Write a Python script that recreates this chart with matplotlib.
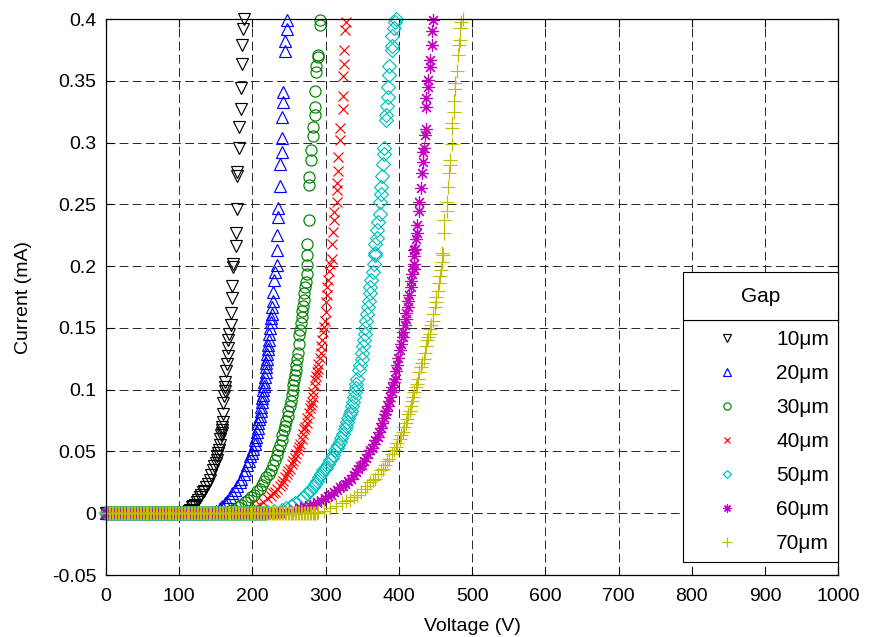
import numpy as np
import matplotlib.pyplot as plt
from matplotlib.patches import Rectangle

plt.rcParams['font.family'] = ['Liberation Sans', 'DejaVu Sans']
plt.rcParams['font.size'] = 14

# gap labels, styles per series
gaps = ["10μm", "20μm", "30μm", "40μm", "50μm", "60μm", "70μm"]
markers = ['v', '^', 'o', 'x', 'D', (8, 2, 0), '+']
msizes = [8.5, 8.5, 8, 7, 7, 9, 10]
colors = ['k', (0, 0, 1), (0, 0.5, 0), (1, 0, 0), (0, 0.75, 0.75), (0.75, 0, 0.75), (0.75, 0.75, 0)]

# voltage where current leaves zero (flat part is 0 mA, sampled every 2 V)
onsets = [110, 145, 170, 195, 220, 240, 290]

# rising part (V, mA)
v10 = [110, 113, 115, 117, 119, 121, 124, 126, 128, 130, 132, 134, 137, 139, 142, 144, 146, 148, 150,
       151, 152, 153, 154, 155, 156, 157, 158, 159, 159, 160, 160, 160, 161, 162, 163, 163, 164, 165,
       166, 167, 167, 168, 171, 171, 172, 172, 174, 174, 177, 177, 179, 179, 179, 182, 182, 184, 184,
       186, 186, 187, 188]
i10 = [0.001, 0.002, 0.003, 0.005, 0.006, 0.007, 0.009, 0.011, 0.013, 0.015, 0.017, 0.018, 0.021, 0.024,
       0.027, 0.031, 0.035, 0.038, 0.041, 0.043, 0.046, 0.049, 0.051, 0.055, 0.060, 0.063, 0.065, 0.067,
       0.070, 0.074, 0.080, 0.089, 0.095, 0.099, 0.102, 0.106, 0.115, 0.121, 0.127, 0.134, 0.140, 0.145,
       0.152, 0.162, 0.174, 0.184, 0.199, 0.202, 0.216, 0.227, 0.246, 0.273, 0.276, 0.296, 0.313, 0.327,
       0.344, 0.364, 0.379, 0.392, 0.400]

v20 = [145, 150, 155, 158, 162, 165, 169, 172, 176, 179, 183, 185, 188, 190, 193, 195, 197, 199, 201,
       203, 204, 205, 206, 207, 208, 209, 210, 211, 212, 213, 213, 214, 215, 216, 216, 217, 218, 219,
       219, 220, 220, 221, 221, 222, 223, 224, 225, 225, 226, 227, 228, 228, 229, 231, 233, 233, 233,
       235, 235, 238, 238, 240, 240, 240, 242, 242, 245, 245, 247, 247]
i20 = [0.001, 0.002, 0.004, 0.006, 0.008, 0.010, 0.013, 0.016, 0.019, 0.022, 0.025, 0.028, 0.032, 0.035,
       0.039, 0.042, 0.046, 0.049, 0.052, 0.056, 0.059, 0.062, 0.066, 0.069, 0.073, 0.076, 0.079, 0.083,
       0.086, 0.090, 0.093, 0.096, 0.100, 0.103, 0.106, 0.110, 0.114, 0.118, 0.122, 0.125, 0.129, 0.133,
       0.136, 0.140, 0.145, 0.150, 0.155, 0.158, 0.161, 0.167, 0.172, 0.179, 0.189, 0.195, 0.201, 0.213,
       0.225, 0.240, 0.247, 0.265, 0.283, 0.292, 0.304, 0.321, 0.333, 0.341, 0.374, 0.382, 0.392, 0.399]

v30 = [170, 175, 180, 185, 190, 194, 198, 202, 206, 210, 213, 216, 219, 222, 225, 228, 231, 233, 235,
       237, 240, 241, 243, 245, 246, 248, 249, 251, 252, 254, 255, 256, 257, 258, 259, 260, 261, 262,
       263, 264, 265, 266, 267, 268, 269, 270, 271, 272, 273, 274, 274, 275, 275, 277, 277, 277, 280,
       280, 283, 283, 285, 285, 285, 287, 287, 290, 290, 292, 292]
i30 = [0.002, 0.003, 0.005, 0.007, 0.009, 0.011, 0.013, 0.015, 0.018, 0.020, 0.023, 0.026, 0.029, 0.032,
       0.035, 0.039, 0.043, 0.047, 0.051, 0.055, 0.059, 0.063, 0.067, 0.071, 0.075, 0.079, 0.083, 0.087,
       0.091, 0.096, 0.100, 0.104, 0.108, 0.112, 0.116, 0.120, 0.125, 0.130, 0.137, 0.144, 0.148, 0.154,
       0.159, 0.164, 0.168, 0.173, 0.178, 0.183, 0.187, 0.194, 0.201, 0.209, 0.218, 0.237, 0.266, 0.272,
       0.286, 0.294, 0.305, 0.313, 0.322, 0.329, 0.342, 0.357, 0.362, 0.369, 0.371, 0.395, 0.399]

v40 = [195, 200, 205, 210, 215, 220, 225, 228, 231, 234, 237, 240, 242, 245, 247, 249, 251, 254, 256,
       258, 260, 262, 264, 265, 267, 269, 271, 272, 274, 275, 277, 278, 280, 281, 282, 283, 285, 286,
       287, 288, 289, 290, 292, 293, 294, 295, 296, 298, 299, 300, 301, 302, 302, 303, 305, 306, 308,
       309, 310, 312, 312, 315, 315, 315, 317, 317, 319, 319, 323, 323, 323, 325, 325, 327, 328]
i40 = [0.002, 0.003, 0.005, 0.007, 0.009, 0.012, 0.014, 0.016, 0.017, 0.020, 0.022, 0.024, 0.026, 0.029,
       0.032, 0.034, 0.036, 0.040, 0.042, 0.045, 0.048, 0.051, 0.054, 0.056, 0.060, 0.064, 0.068, 0.070,
       0.073, 0.077, 0.081, 0.085, 0.088, 0.090, 0.094, 0.098, 0.103, 0.108, 0.111, 0.114, 0.117, 0.121,
       0.126, 0.130, 0.135, 0.140, 0.147, 0.151, 0.156, 0.163, 0.171, 0.177, 0.183, 0.189, 0.196, 0.202,
       0.206, 0.218, 0.228, 0.237, 0.244, 0.252, 0.262, 0.267, 0.277, 0.288, 0.302, 0.312, 0.327, 0.338,
       0.354, 0.364, 0.375, 0.391, 0.398]

v50 = [220, 230, 240, 246, 252, 258, 265, 270, 274, 278, 282, 285, 288, 291, 294, 297, 300, 303, 306,
       308, 310, 313, 315, 317, 319, 321, 324, 326, 328, 329, 331, 333, 334, 336, 337, 338, 340, 341,
       342, 343, 345, 347, 349, 350, 351, 352, 353, 354, 355, 357, 358, 359, 360, 361, 362, 364, 366,
       367, 367, 367, 370, 370, 372, 374, 374, 375, 376, 377, 378, 379, 380, 382, 382, 384, 385, 385,
       387, 387, 390, 390, 391, 393, 395, 396]
i50 = [0.001, 0.002, 0.003, 0.004, 0.006, 0.008, 0.011, 0.013, 0.016, 0.018, 0.021, 0.024, 0.026, 0.029,
       0.032, 0.035, 0.037, 0.040, 0.043, 0.045, 0.047, 0.051, 0.053, 0.055, 0.058, 0.061, 0.064, 0.068,
       0.071, 0.074, 0.077, 0.080, 0.083, 0.087, 0.090, 0.094, 0.098, 0.101, 0.105, 0.109, 0.116, 0.120,
       0.125, 0.130, 0.135, 0.140, 0.145, 0.150, 0.156, 0.161, 0.167, 0.172, 0.178, 0.183, 0.189, 0.195,
       0.202, 0.209, 0.211, 0.218, 0.223, 0.229, 0.236, 0.242, 0.252, 0.258, 0.264, 0.273, 0.283, 0.291,
       0.296, 0.318, 0.322, 0.330, 0.337, 0.345, 0.355, 0.362, 0.375, 0.378, 0.386, 0.393, 0.398, 0.400]

v60 = [240, 250, 258, 265, 272, 278, 283, 288, 293, 299, 303, 307, 312, 316, 320, 323, 326, 330, 334,
       338, 341, 344, 347, 349, 352, 355, 358, 361, 363, 366, 368, 371, 373, 375, 377, 379, 381, 383,
       385, 387, 388, 390, 391, 393, 394, 396, 397, 399, 401, 403, 405, 406, 408, 409, 410, 412, 413,
       414, 416, 417, 418, 420, 421, 421, 421, 422, 423, 424, 425, 427, 427, 430, 431, 433, 433, 434,
       436, 437, 437, 437, 440, 440, 443, 443, 445, 445, 446]
i60 = [0.001, 0.002, 0.003, 0.004, 0.005, 0.006, 0.007, 0.009, 0.010, 0.012, 0.014, 0.015, 0.017, 0.019,
       0.021, 0.022, 0.024, 0.026, 0.028, 0.031, 0.033, 0.036, 0.038, 0.039, 0.042, 0.045, 0.048, 0.051,
       0.053, 0.056, 0.059, 0.062, 0.066, 0.069, 0.073, 0.077, 0.080, 0.083, 0.087, 0.091, 0.094, 0.098,
       0.102, 0.106, 0.109, 0.115, 0.120, 0.126, 0.132, 0.137, 0.143, 0.147, 0.152, 0.157, 0.162, 0.167,
       0.172, 0.177, 0.183, 0.188, 0.194, 0.198, 0.202, 0.208, 0.213, 0.214, 0.222, 0.227, 0.233, 0.245,
       0.252, 0.263, 0.275, 0.284, 0.292, 0.296, 0.306, 0.311, 0.329, 0.336, 0.345, 0.351, 0.361, 0.367,
       0.379, 0.390, 0.399]

v70 = [290, 298, 306, 314, 322, 328, 333, 338, 343, 348, 353, 357, 361, 365, 367, 371, 375, 378, 381,
       384, 387, 390, 393, 396, 398, 401, 403, 405, 407, 409, 411, 413, 415, 417, 418, 419, 421, 423,
       424, 426, 428, 430, 432, 434, 435, 437, 439, 440, 442, 443, 444, 446, 447, 449, 450, 451, 453,
       455, 456, 458, 459, 459, 460, 461, 462, 465, 465, 467, 468, 470, 470, 473, 473, 473, 475, 475,
       476, 476, 479, 481, 482, 483, 484, 485, 488]
i70 = [0.001, 0.002, 0.004, 0.006, 0.008, 0.010, 0.011, 0.013, 0.015, 0.017, 0.020, 0.022, 0.025, 0.027,
       0.028, 0.032, 0.035, 0.036, 0.039, 0.042, 0.044, 0.048, 0.051, 0.054, 0.057, 0.060, 0.063, 0.066,
       0.070, 0.073, 0.076, 0.080, 0.083, 0.087, 0.091, 0.094, 0.098, 0.102, 0.105, 0.109, 0.114, 0.118,
       0.122, 0.125, 0.130, 0.135, 0.140, 0.143, 0.145, 0.149, 0.152, 0.156, 0.161, 0.167, 0.171, 0.175,
       0.180, 0.186, 0.192, 0.197, 0.203, 0.211, 0.209, 0.227, 0.237, 0.245, 0.252, 0.264, 0.275, 0.282,
       0.286, 0.299, 0.312, 0.316, 0.325, 0.334, 0.343, 0.348, 0.358, 0.371, 0.379, 0.383, 0.393, 0.398,
       0.400]

rise_v = [v10, v20, v30, v40, v50, v60, v70]
rise_i = [i10, i20, i30, i40, i50, i60, i70]

xticks = [0, 100, 200, 300, 400, 500, 600, 700, 800, 900, 1000]
yticks = [-0.05, 0, 0.05, 0.1, 0.15, 0.2, 0.25, 0.3, 0.35, 0.4]
ytick_labels = ["-0.05", "0", "0.05", "0.1", "0.15", "0.2", "0.25", "0.3", "0.35", "0.4"]

fig = plt.figure(figsize=(8.76, 6.37), dpi=100)
ax = fig.add_axes([0.121, 0.0973, 0.836, 0.8728])

for k in range(len(gaps)):
    flat_v = np.arange(0, onsets[k], 2)
    v = np.concatenate([flat_v, rise_v[k]])
    cur = np.concatenate([np.zeros(len(flat_v)), rise_i[k]])
    ax.plot(v, cur, linestyle='none', marker=markers[k], color=colors[k],
            markerfacecolor='none', markersize=msizes[k], markeredgewidth=0.85,
            label=gaps[k], clip_on=False)

ax.set_xlim(0, 1000)
ax.set_ylim(-0.05, 0.4)
ax.set_xticks(xticks)
ax.set_yticks(yticks)
ax.set_yticklabels(ytick_labels)
ax.tick_params(direction='in', top=True, right=True, length=5.5, width=0.8, pad=9)
ax.tick_params(axis='y', pad=7)
for s in ax.spines.values():
    s.set_linewidth(0.9)
ax.grid(True, color='0.15', linestyle=(0, (9, 4.5)), linewidth=0.7)
ax.set_axisbelow(True)
ax.set_xlabel("Voltage (V)", labelpad=10)
ax.set_ylabel("Current (mA)", labelpad=14)

# legend entries box, with the "Gap" title in its own box on top
leg = ax.legend(loc='lower right', bbox_to_anchor=(1.0, 0.023), borderaxespad=0,
                fancybox=False, edgecolor='k', framealpha=1, markerscale=0.65,
                handlelength=3.3, handletextpad=0.72, borderpad=0.45, labelspacing=0.72,
                fontsize=15)
leg.get_frame().set_linewidth(0.8)

fig.canvas.draw()
fb = leg.get_frame().get_window_extent()
inv = fig.transFigure.inverted()
(x0, y0), (x1, y1) = inv.transform([(fb.x0, fb.y1), (fb.x1, fb.y1 + 48)])
fig.add_artist(Rectangle((x0, y0), x1 - x0, y1 - y0, transform=fig.transFigure,
                         facecolor='white', edgecolor='k', linewidth=0.8))
fig.text((x0 + x1) / 2, (y0 + y1) / 2, "Gap", ha='center', va='center', fontsize=15)

fig.savefig("out.png", dpi=100)
